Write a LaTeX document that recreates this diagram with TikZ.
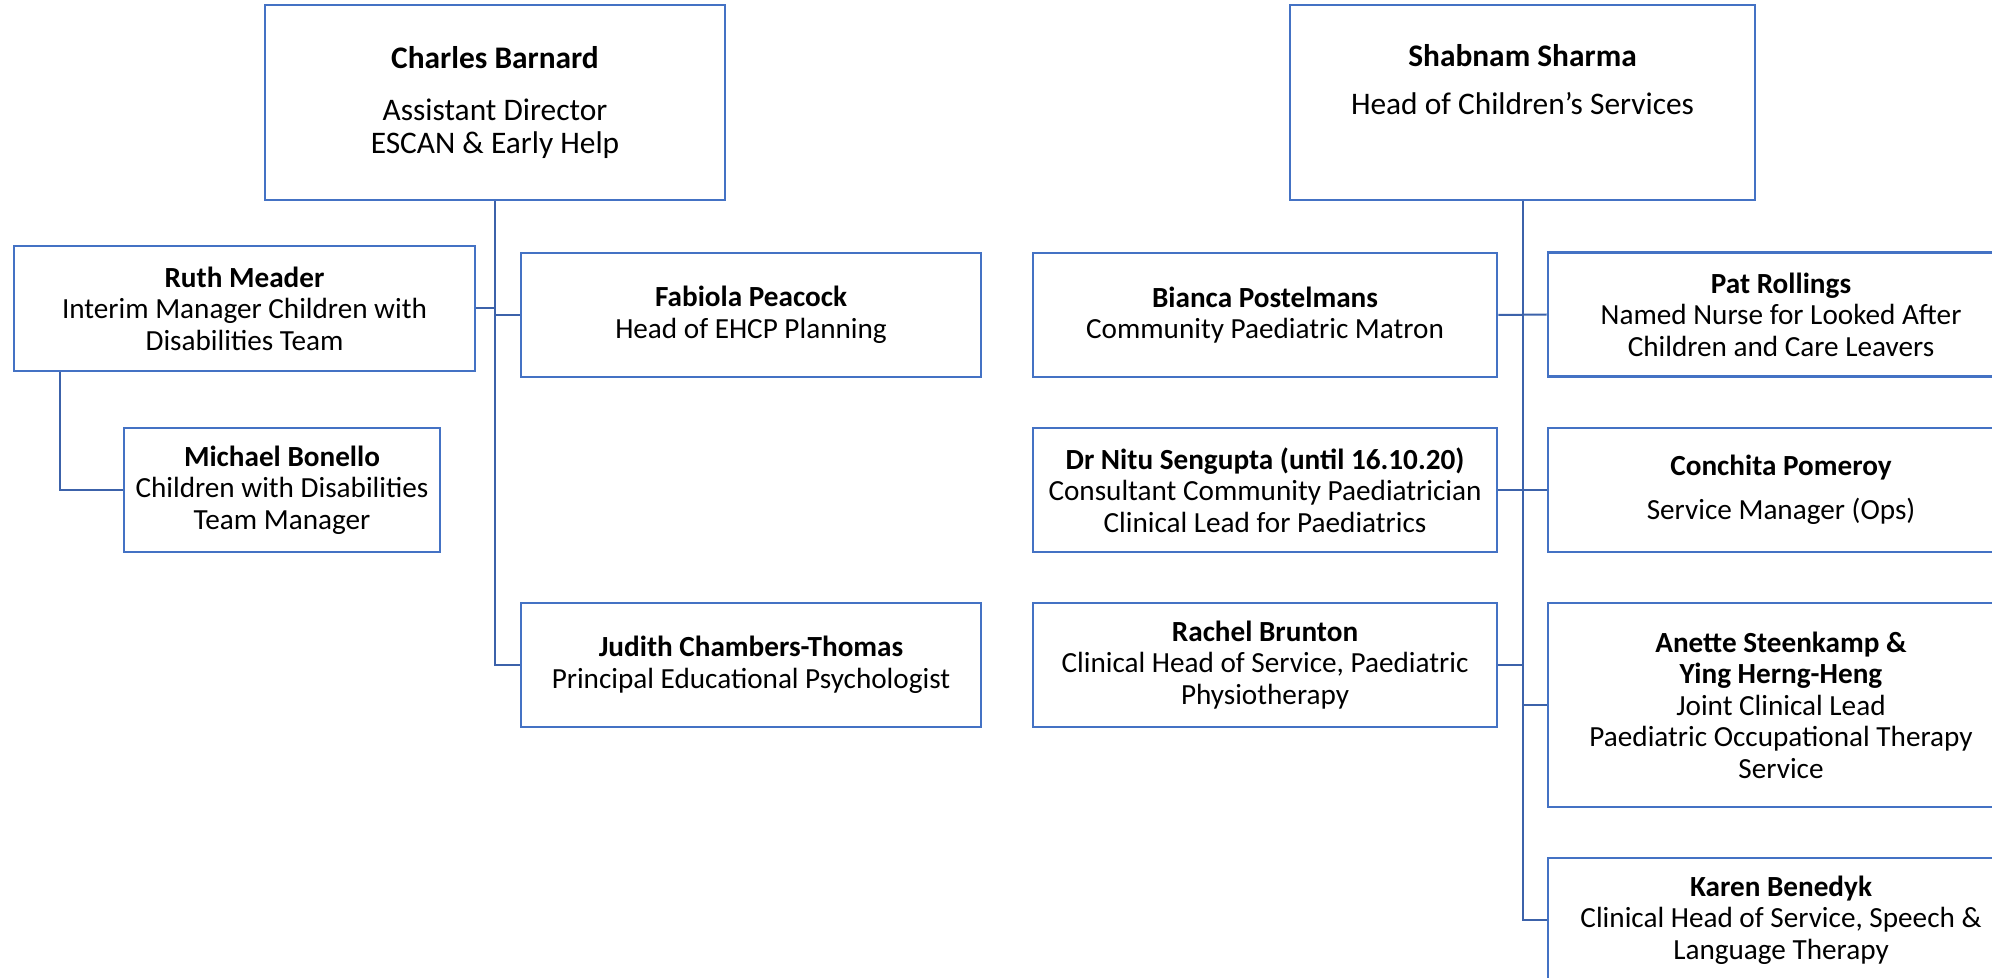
\documentclass[tikz,border=0pt]{standalone}
\usepackage{fontspec}
\setmainfont{Carlito}
\usetikzlibrary{calc}
\definecolor{boxblue}{HTML}{4472C4}
\definecolor{lineblue}{HTML}{3C62AA}
\begin{document}
\begin{tikzpicture}[x=0.5pt,y=-0.5pt,
  box/.style={draw=boxblue, line width=1.3pt, rectangle, inner sep=0pt, align=center,
    font=\fontsize{14.6pt}{15.75pt}\selectfont, minimum height=62pt},
  bigbox/.style={box, font=\fontsize{15.7pt}{16.5pt}\selectfont},
  txt/.style={inner sep=0pt, align=center, font=\fontsize{15.7pt}{16.5pt}\selectfont},
  conn/.style={draw=lineblue, line width=1pt}]
\useasboundingbox (0,0) rectangle (1992,978);

% left branch
\node[bigbox, minimum width=230pt, minimum height=97.5pt] (charles) at (495,102.5)
  {\textbf{Charles Barnard}\\[9.5pt]Assistant Director\\ESCAN \& Early Help};
\node[box, minimum width=230.5pt, minimum height=62.5pt] (ruth) at (244.5,308.5)
  {\textbf{Ruth Meader}\\Interim Manager Children with\\Disabilities Team};
\node[box, minimum width=230pt] (fab) at (751,315)
  {\textbf{Fabiola Peacock}\\Head of EHCP Planning};
\node[box, minimum width=158pt] (mich) at (282,490)
  {\textbf{Michael Bonello}\\Children with Disabilities\\Team Manager};
\node[box, minimum width=230pt] (jud) at (751,665)
  {\textbf{Judith Chambers-Thomas}\\Principal Educational Psychologist};

% right branch
\node[box, minimum width=232.5pt, minimum height=97.5pt] (shab) at (1522.5,102.5) {};
\node[txt] (shabtext) at (1522.5,79.5)
  {\textbf{Shabnam Sharma}\\[7.5pt]Head of Children’s Services};
\node[box, minimum width=232pt] (bianca) at (1265,315)
  {\textbf{Bianca Postelmans}\\Community Paediatric Matron};
\node[box, minimum width=233pt] (pat) at (1781,314.5)
  {\textbf{Pat Rollings}\\Named Nurse for Looked After\\Children and Care Leavers};
\node[box, minimum width=232pt] (nitu) at (1265,490)
  {\textbf{Dr Nitu Sengupta (until 16.10.20)}\\Consultant Community Paediatrician\\Clinical Lead for Paediatrics};
\node[box, minimum width=233pt] (conch) at (1781,490)
  {\textbf{Conchita Pomeroy}\\[6.25pt]Service Manager (Ops)};
\node[box, minimum width=232pt] (rachel) at (1265,665)
  {\textbf{Rachel Brunton}\\Clinical Head of Service, Paediatric\\Physiotherapy};
\node[box, minimum width=233pt, minimum height=102pt] (anette) at (1781,705)
  {\textbf{Anette Steenkamp \&}\\\textbf{Ying Herng-Heng}\\Joint Clinical Lead\\Paediatric Occupational Therapy\\Service};
\node[box, minimum width=233pt] (karen) at (1781,920)
  {\textbf{Karen Benedyk}\\Clinical Head of Service, Speech \&\\Language Therapy};

% connectors left
\draw[conn] (charles.south) |- (jud.west);
\draw[conn] (ruth.east) -- (ruth.east -| charles.south);
\draw[conn] (fab.west) -- (fab.west -| charles.south);
\draw[conn] ($(ruth.south west)+(47,0)$) |- (mich.west);

% connectors right
\draw[conn] (shab.south) |- (karen.west);
\draw[conn] (bianca.east) -- (pat.west);
\draw[conn] (nitu.east) -- (conch.west);
\draw[conn] (rachel.east) -- (rachel.east -| shab.south);
\draw[conn] (anette.west) -- (anette.west -| shab.south);
\end{tikzpicture}
\end{document}
